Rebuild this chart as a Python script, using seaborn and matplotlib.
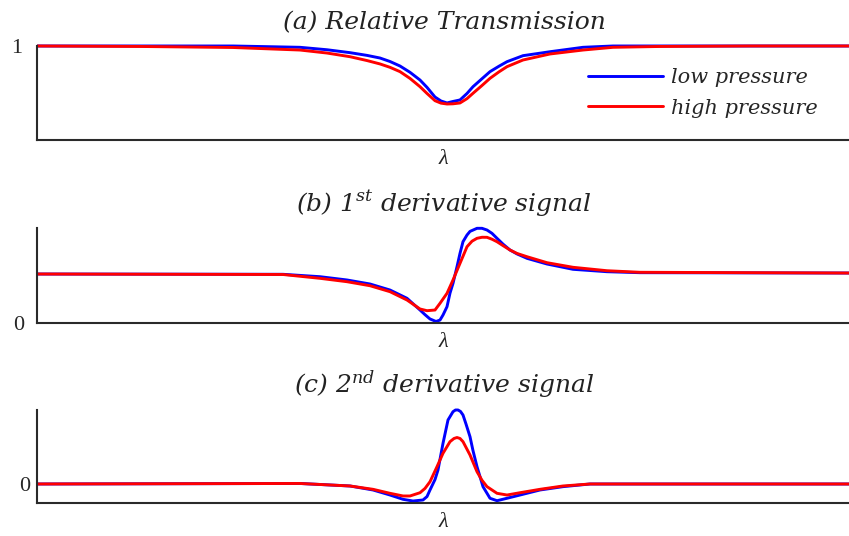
import pandas as pd
import matplotlib
matplotlib.use("Agg")
import matplotlib.pyplot as plt
import seaborn as sns
from matplotlib.lines import Line2D

sns.set_style("white")
plt.rcParams["mathtext.fontset"] = "custom"
plt.rcParams["mathtext.it"] = "DejaVu Serif:italic"
plt.rcParams["mathtext.rm"] = "DejaVu Serif:italic"

series_labels = ["low pressure", "high pressure"]
series_colors = ["#0000ff", "#ff0000"]

# (a) relative transmission around the absorption line
trans_low_x = [-4.10, -2.14, -1.47, -1.20, -0.97, -0.80, -0.67, -0.57, -0.47, -0.37, -0.27,
               -0.20, -0.12, -0.06, 0.00, 0.06, 0.13, 0.20, 0.26, 0.35, 0.43, 0.52, 0.60,
               0.76, 1.03, 1.36, 1.66, 4.02]
trans_low_y = [1.000, 1.000, 0.986, 0.960, 0.929, 0.900, 0.872, 0.835, 0.787, 0.720, 0.638,
               0.560, 0.457, 0.415, 0.394, 0.410, 0.426, 0.495, 0.567, 0.652, 0.727, 0.785,
               0.833, 0.897, 0.939, 0.986, 1.000, 1.000]
trans_high_x = [-4.10, -3.07, -2.14, -1.47, -1.20, -0.97, -0.80, -0.67, -0.57, -0.47, -0.37,
                -0.27, -0.20, -0.12, -0.06, 0.00, 0.06, 0.13, 0.20, 0.26, 0.35, 0.43, 0.52,
                0.60, 0.76, 1.03, 1.36, 1.66, 2.13, 3.03, 4.02]
trans_high_y = [1.000, 0.995, 0.984, 0.957, 0.925, 0.886, 0.845, 0.809, 0.773, 0.727, 0.655,
                0.567, 0.495, 0.418, 0.392, 0.383, 0.385, 0.394, 0.440, 0.497, 0.580, 0.656,
                0.725, 0.780, 0.851, 0.915, 0.957, 0.986, 0.995, 1.000, 1.000]

# (b) first-derivative (1f) signal
d1_low_x = [-4.10, -1.64, -1.27, -1.00, -0.77, -0.57, -0.40, -0.27, -0.22, -0.17, -0.11,
            -0.07, -0.04, 0.00, 0.03, 0.06, 0.10, 0.13, 0.16, 0.20, 0.23, 0.30, 0.35, 0.40,
            0.45, 0.50, 0.56, 0.63, 0.70, 0.80, 1.00, 1.26, 1.60, 1.93, 4.02]
d1_low_y = [1.000, 0.994, 0.945, 0.878, 0.796, 0.673, 0.504, 0.265, 0.170, 0.082, 0.031,
            0.060, 0.163, 0.333, 0.610, 0.810, 1.150, 1.422, 1.660, 1.796, 1.870, 1.933,
            1.933, 1.898, 1.830, 1.729, 1.610, 1.490, 1.410, 1.320, 1.204, 1.096, 1.047,
            1.027, 1.020]
d1_high_x = [-4.10, -1.64, -1.27, -1.00, -0.77, -0.57, -0.40, -0.27, -0.20, -0.12, -0.07,
             0.00, 0.06, 0.13, 0.20, 0.25, 0.30, 0.35, 0.40, 0.45, 0.50, 0.56, 0.63, 0.70,
             0.80, 1.00, 1.26, 1.60, 1.93, 4.02]
d1_high_y = [1.000, 0.990, 0.912, 0.843, 0.761, 0.639, 0.469, 0.286, 0.251, 0.265, 0.402,
             0.606, 0.878, 1.218, 1.557, 1.670, 1.729, 1.750, 1.749, 1.710, 1.659, 1.580,
             1.490, 1.420, 1.353, 1.231, 1.137, 1.067, 1.035, 1.020]

# (c) second-derivative (2f) signal
d2_low_x = [-4.10, -1.47, -0.97, -0.74, -0.57, -0.44, -0.34, -0.24, -0.20, -0.17, -0.12,
            -0.09, -0.04, 0.01, 0.06, 0.085, 0.11, 0.135, 0.16, 0.19, 0.23, 0.26, 0.30,
            0.36, 0.43, 0.50, 0.60, 0.73, 0.93, 1.16, 1.43, 4.02]
d2_low_y = [0.000, 0.007, -0.027, -0.081, -0.149, -0.207, -0.230, -0.216, -0.170, -0.081,
            0.060, 0.189, 0.550, 0.865, 0.977, 1.000, 1.000, 0.980, 0.932, 0.810, 0.639,
            0.450, 0.234, -0.036, -0.193, -0.226, -0.193, -0.149, -0.081, -0.036, 0.000,
            0.000]
d2_high_x = [-4.10, -1.47, -0.97, -0.74, -0.57, -0.44, -0.37, -0.27, -0.22, -0.17, -0.10,
             -0.04, 0.03, 0.07, 0.10, 0.13, 0.16, 0.23, 0.30, 0.35, 0.40, 0.50, 0.60, 0.73,
             0.93, 1.16, 1.43, 4.02]
d2_high_y = [0.000, 0.007, -0.027, -0.072, -0.126, -0.162, -0.162, -0.118, -0.060, 0.031,
             0.234, 0.415, 0.572, 0.615, 0.628, 0.615, 0.572, 0.392, 0.166, 0.050, -0.036,
             -0.126, -0.149, -0.118, -0.072, -0.027, 0.000, 0.000]

titles = ["(a) Relative Transmission",
          r"(b) 1$^{st}$ derivative signal",
          r"(c) 2$^{nd}$ derivative signal"]
ytick_values = [1, 0, 0]
ytick_labels = ["1", "0", "0"]
x_label = "λ"

panels = [
    (trans_low_x, trans_low_y, trans_high_x, trans_high_y),
    (d1_low_x, d1_low_y, d1_high_x, d1_high_y),
    (d2_low_x, d2_low_y, d2_high_x, d2_high_y),
]

fig = plt.figure(figsize=(8.49, 5.36), dpi=100)
fig.patch.set_facecolor("white")

axes_rects = [
    [0.0436, 0.7388, 0.9564, 0.1754],
    [0.0436, 0.3974, 0.9564, 0.1772],
    [0.0436, 0.0610, 0.9564, 0.1741],
]
y_limits = [(0.0, 1.0), (0.0, 1.939), (-0.261, 1.0)]
tick_pads = [11, 9, 5]
title_y = [1 - 29 / 536, 1 - 211 / 536, 1 - 393 / 536]

palette = dict(zip(series_labels, series_colors))
spine_color = "#2a2a2a"

for i, (lx, ly, hx, hy) in enumerate(panels):
    ax = fig.add_axes(axes_rects[i])
    df = pd.concat([
        pd.DataFrame({"x": lx, "y": ly, "series": series_labels[0]}),
        pd.DataFrame({"x": hx, "y": hy, "series": series_labels[1]}),
    ], ignore_index=True)
    sns.lineplot(data=df, x="x", y="y", hue="series", hue_order=series_labels,
                 palette=palette, sort=False, estimator=None, linewidth=2.1,
                 legend=False, ax=ax)
    for ln in ax.get_lines():
        ln.set_clip_on(False)
        ln.set_solid_joinstyle("round")
        ln.set_solid_capstyle("butt")
    ax.set_xlim(-4.10, 4.02)
    ax.set_ylim(*y_limits[i])
    ax.set_xticks([])
    ax.set_yticks([ytick_values[i]])
    ax.set_yticklabels([ytick_labels[i]], fontfamily="Liberation Serif", fontsize=16)
    ax.tick_params(axis="y", length=0, pad=tick_pads[i])
    for side in ("top", "right"):
        ax.spines[side].set_visible(False)
    for side in ("left", "bottom"):
        ax.spines[side].set_color(spine_color)
        ax.spines[side].set_linewidth(1.5)
    ax.set_ylabel("")
    ax.set_xlabel(x_label, fontfamily="Liberation Serif", fontstyle="italic",
                  fontsize=16, labelpad=7)
    fig.text(0.523, title_y[i], titles[i], ha="center", va="baseline",
             fontfamily="DejaVu Serif", fontstyle="italic", fontsize=18,
             color="#222222")
    if i == 0:
        handles = [Line2D([], [], color=c, linewidth=2.1) for c in series_colors]
        ax.legend(handles, series_labels, loc="center left",
                  bbox_to_anchor=(0.679, 0.50), frameon=False,
                  prop={"family": "DejaVu Serif", "style": "italic", "size": 15},
                  handlelength=3.6, handletextpad=0.35, labelspacing=0.55,
                  borderpad=0, borderaxespad=0)

fig.savefig("out.png", dpi=100, facecolor="white")
